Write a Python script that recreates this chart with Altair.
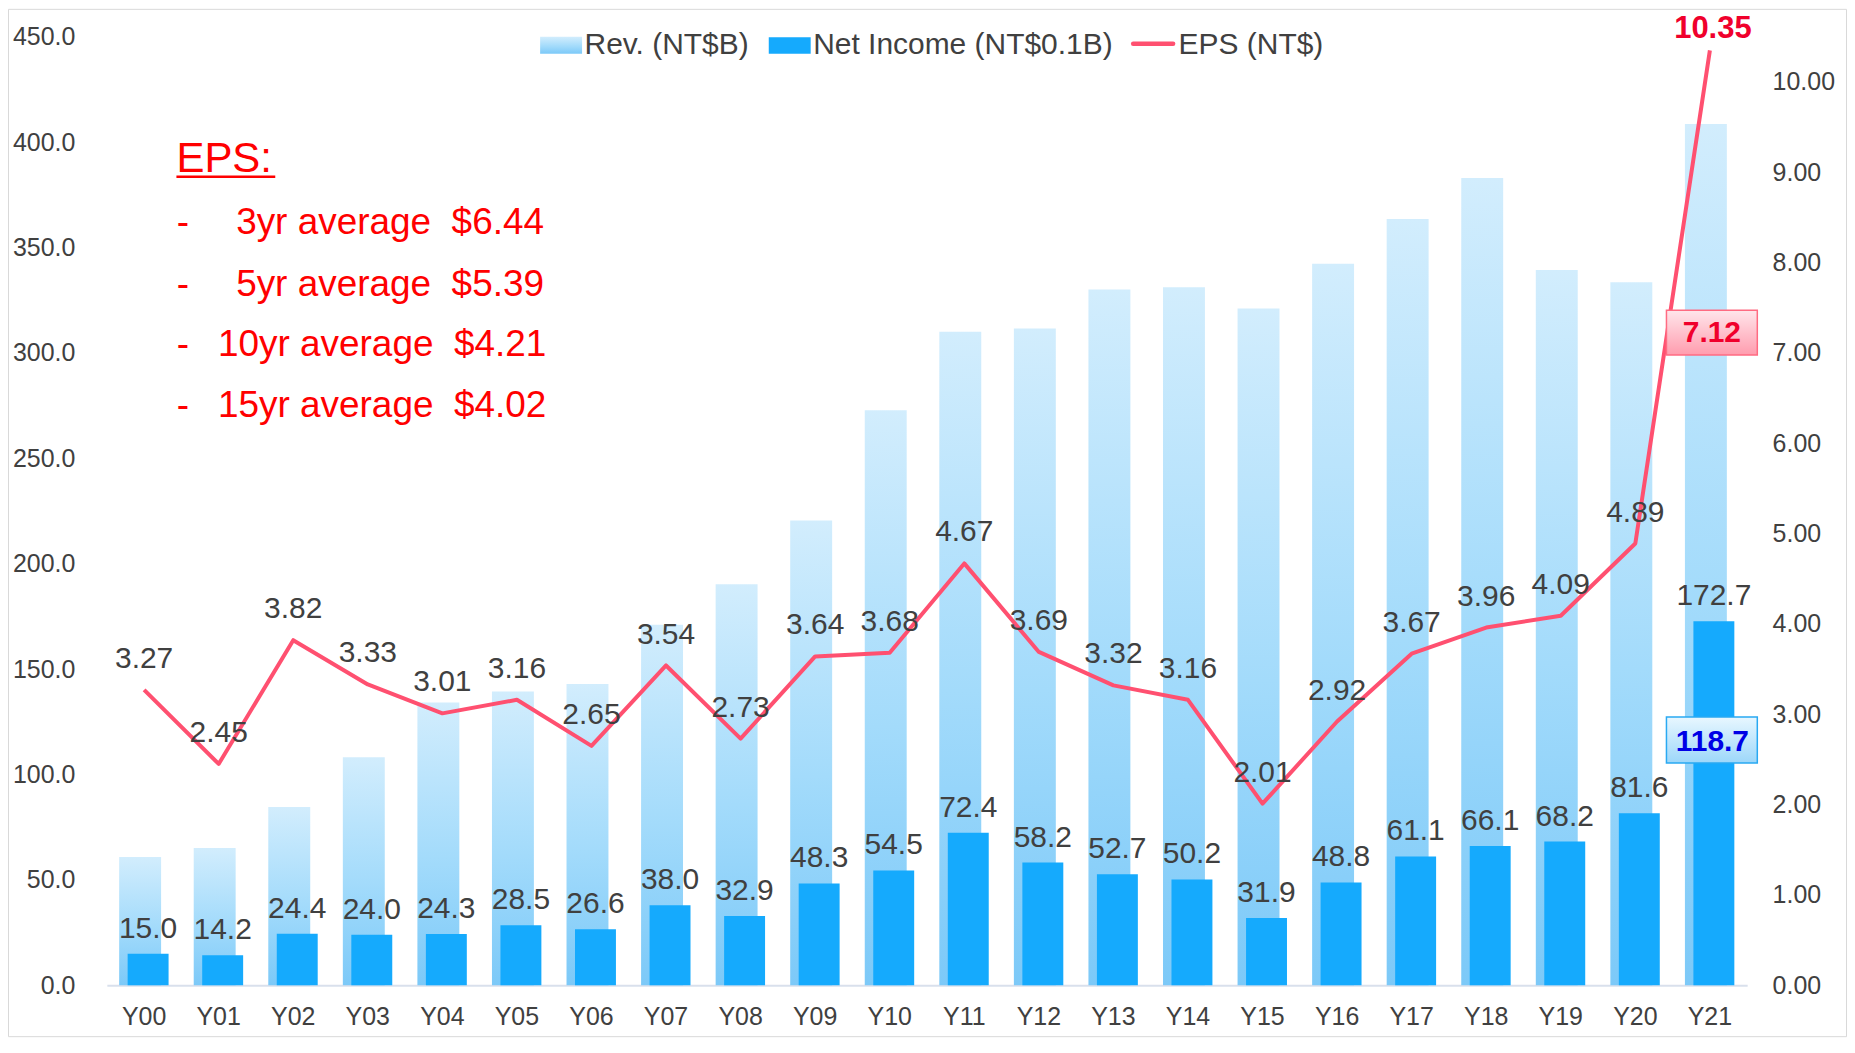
import altair as alt
import pandas as pd

# ---------------- data ----------------
years = ["Y00", "Y01", "Y02", "Y03", "Y04", "Y05", "Y06", "Y07", "Y08", "Y09", "Y10",
         "Y11", "Y12", "Y13", "Y14", "Y15", "Y16", "Y17", "Y18", "Y19", "Y20", "Y21"]
revenue = [60.9, 65.1, 84.6, 108.2, 134.2, 139.4, 142.9, 171.0, 190.3, 220.5, 272.8,
           310.0, 311.6, 330.1, 331.2, 321.1, 342.3, 363.6, 383.0, 339.3, 333.6, 408.6]
net_income = [15.0, 14.2, 24.4, 24.0, 24.3, 28.5, 26.6, 38.0, 32.9, 48.3, 54.5,
              72.4, 58.2, 52.7, 50.2, 31.9, 48.8, 61.1, 66.1, 68.2, 81.6, 172.7]
eps = [3.27, 2.45, 3.82, 3.33, 3.01, 3.16, 2.65, 3.54, 2.73, 3.64, 3.68,
       4.67, 3.69, 3.32, 3.16, 2.01, 2.92, 3.67, 3.96, 4.09, 4.89, 10.35]

h1_year = "Y21"
h1_eps = 7.12
h1_ni = 118.7

legend_labels = ["Rev. (NT$B)", "Net Income (NT$0.1B)", "EPS (NT$)"]
eps_title = "EPS:"
avg_periods = ["3yr", "5yr", "10yr", "15yr"]
avg_values = ["$6.44", "$5.39", "$4.21", "$4.02"]

left_ticks = [0, 50, 100, 150, 200, 250, 300, 350, 400, 450]
right_ticks = [0, 1, 2, 3, 4, 5, 6, 7, 8, 9, 10]

df = pd.DataFrame({"year": years, "rev": revenue, "ni": net_income, "eps": eps})

# ---------------- styles ----------------
FONT = "Liberation Sans"
GRAY = "#404040"
NI_BLUE = "#15AAFD"
EPS_RED = "#FF5070"
TXT_RED = "#F0002C"

W, H = 1643, 950
NO_VIEW = alt.ViewBackground(stroke="transparent", strokeWidth=0)

rev_grad = alt.LinearGradient(
    gradient="linear", x1=0, y1=0, x2=0, y2=1,
    stops=[alt.GradientStop(color="#D2EDFD", offset=0),
           alt.GradientStop(color="#A3DBFB", offset=0.55),
           alt.GradientStop(color="#7CC9F8", offset=1)])
pink_grad = alt.LinearGradient(
    gradient="linear", x1=0, y1=0, x2=0, y2=1,
    stops=[alt.GradientStop(color="#FFE6EB", offset=0),
           alt.GradientStop(color="#FF9CAE", offset=1)])
blue_grad = alt.LinearGradient(
    gradient="linear", x1=0, y1=0, x2=0, y2=1,
    stops=[alt.GradientStop(color="#E8F7FF", offset=0),
           alt.GradientStop(color="#9CD7FA", offset=1)])

x_enc = alt.X("year:N", title=None,
              scale=alt.Scale(domain=years, paddingInner=0, paddingOuter=0),
              axis=alt.Axis(labelAngle=0, labelFontSize=25, labelFont=FONT, labelColor=GRAY,
                            labelPadding=19, ticks=False, tickSize=0,
                            domainColor="#D9E0EC", domainWidth=2, grid=False))

left_scale = alt.Scale(domain=[0, 450], nice=False, zero=True)
right_scale = alt.Scale(domain=[0, 10.5], nice=False, zero=True)
left_axis = alt.Axis(orient="left", values=left_ticks, format=".1f", labelFontSize=25,
                     labelFont=FONT, labelColor=GRAY, labelPadding=32, ticks=False,
                     tickSize=0, domain=False, grid=False)
right_axis = alt.Axis(orient="right", values=right_ticks, format=".2f", labelFontSize=25,
                      labelFont=FONT, labelColor=GRAY, labelPadding=25, ticks=False,
                      tickSize=0, domain=False, grid=False)

def yl(field):
    return alt.Y(field, scale=left_scale, axis=left_axis, title=None)

def yr(field):
    return alt.Y(field, scale=right_scale, axis=right_axis, title=None)

# ---------------- left-axis group ----------------
rev_bar = alt.Chart(df).mark_bar(width=42, xOffset=-4, fill=rev_grad).encode(
    x=x_enc, y=yl("rev:Q"))
ni_bar = alt.Chart(df).mark_bar(width=41, xOffset=4, fill=NI_BLUE).encode(
    x=x_enc, y=yl("ni:Q"))
ni_text = alt.Chart(df).mark_text(dx=4, dy=-25, fontSize=30, font=FONT, color=GRAY).encode(
    x=x_enc, y=yl("ni:Q"), text=alt.Text("ni:Q", format=".1f"))

ni_box_df = pd.DataFrame({"year": [h1_year], "val": [h1_ni]})
ni_box = alt.Chart(ni_box_df).mark_bar(
    width=91, xOffset=2, yOffset=-18, y2Offset=28, fill=blue_grad,
    stroke="#29A9F2", strokeWidth=1.5).encode(x=x_enc, y=yl("val:Q"), y2="val:Q")
ni_box_text = alt.Chart(ni_box_df).mark_text(
    dx=2.5, dy=7, fontSize=30, fontWeight="bold", font=FONT, color="#0000E6").encode(
    x=x_enc, y=yl("val:Q"), text=alt.Text("val:Q", format=".1f"))

left_group = alt.layer(rev_bar, ni_bar, ni_text, ni_box, ni_box_text)

# ---------------- right-axis group ----------------
eps_line = alt.Chart(df).mark_line(color=EPS_RED, strokeWidth=4, strokeJoin="round").encode(
    x=x_enc, y=yr("eps:Q"))
eps_text = alt.Chart(df).transform_filter(alt.datum.year != h1_year).mark_text(
    dy=-31, fontSize=30, font=FONT, color=GRAY).encode(
    x=x_enc, y=yr("eps:Q"), text=alt.Text("eps:Q", format=".2f"))
eps_last = alt.Chart(df).transform_filter(alt.datum.year == h1_year).mark_text(
    dx=3, dy=-21, fontSize=31, fontWeight="bold", font=FONT, color=TXT_RED).encode(
    x=x_enc, y=yr("eps:Q"), text=alt.Text("eps:Q", format=".2f"))

eps_box_df = pd.DataFrame({"year": [h1_year], "val": [h1_eps]})
eps_box = alt.Chart(eps_box_df).mark_bar(
    width=91, xOffset=2, yOffset=-32, y2Offset=13, fill=pink_grad,
    stroke="#FF6B82", strokeWidth=1.5).encode(x=x_enc, y=yr("val:Q"), y2="val:Q")
eps_box_text = alt.Chart(eps_box_df).mark_text(
    dx=2, dy=-9, fontSize=30, fontWeight="bold", font=FONT, color=TXT_RED).encode(
    x=x_enc, y=yr("val:Q"), text=alt.Text("val:Q", format=".2f"))

right_group = alt.layer(eps_line, eps_text, eps_box, eps_box_text, eps_last)

# ---------------- decorations (frame, legend, notes) ----------------
one = pd.DataFrame({"k": [0]})

frame = alt.Chart(one).mark_rect(fillOpacity=0, stroke="#D9D9D9", strokeWidth=1).encode(
    x=alt.value(-98.5), x2=alt.value(W + 99.5), y=alt.value(-27.5), y2=alt.value(H + 51.5))

def text_at(txt, x, y, size, color=GRAY, weight="normal"):
    return alt.Chart(pd.DataFrame({"t": [txt]})).mark_text(
        align="left", baseline="middle", fontSize=size, fontWeight=weight,
        font=FONT, color=color).encode(x=alt.value(x), y=alt.value(y), text="t:N")

leg_rev_sw = alt.Chart(one).mark_rect(fill=rev_grad).encode(
    x=alt.value(434), x2=alt.value(476), y=alt.value(0), y2=alt.value(17))
leg_ni_sw = alt.Chart(one).mark_rect(fill=NI_BLUE).encode(
    x=alt.value(663), x2=alt.value(705), y=alt.value(0.5), y2=alt.value(17))
leg_eps_sw = alt.Chart(one).mark_rule(color=EPS_RED, strokeWidth=4.5, strokeCap="round").encode(
    x=alt.value(1028), x2=alt.value(1068), y=alt.value(7))

legend = [
    leg_rev_sw, leg_ni_sw, leg_eps_sw,
    text_at(legend_labels[0], 478.5, 8.3, 30),
    text_at(legend_labels[1], 707.5, 8.3, 30),
    text_at(legend_labels[2], 1073.5, 8.3, 30),
]

notes = [text_at(eps_title, 69.7, 122.5, 42, "#FF0000")]
notes.append(alt.Chart(one).mark_rule(color="#FF0000", strokeWidth=2.5).encode(
    x=alt.value(69.7), x2=alt.value(168.7), y=alt.value(140.2)))
note_x = [129.5, 129.5, 111.3, 111.3]
note_y = [187, 248.7, 308.7, 369.7]
for p, v, nx, ny in zip(avg_periods, avg_values, note_x, note_y):
    notes.append(text_at("-", 70, ny, 37, "#FF0000"))
    notes.append(text_at(f"{p} average\u00a0 {v}", nx, ny, 37, "#FF0000"))

main = alt.layer(left_group, right_group, view=NO_VIEW).resolve_scale(y="independent")

chart = alt.layer(
    frame, main, *legend, *notes
).properties(
    width=W, height=H,
    view=NO_VIEW,
    padding={"left": 99, "top": 28, "right": 100, "bottom": 52},
    autosize=alt.AutoSizeParams(type="none"),
).configure_view(stroke=None, strokeWidth=0).configure(font=FONT)

chart.save("out.html", embed_options={"renderer": "svg", "actions": False})
